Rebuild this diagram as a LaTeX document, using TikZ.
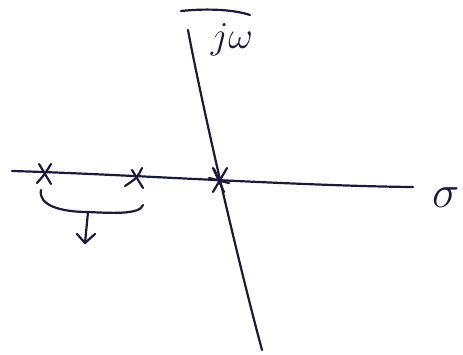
\RequirePackage{fix-cm}
\documentclass[tikz,border=0pt]{standalone}
\usetikzlibrary{arrows.meta,calc}
\begin{document}
\begin{tikzpicture}[x=1pt,y=-1pt,
  ink/.style={draw=inkc,line width=2.2pt,line cap=round,line join=round},
  lbl/.style={text=inkc,inner sep=0pt}]
\definecolor{inkc}{HTML}{1C1A3A}
\useasboundingbox (0,0) rectangle (463,355);
% axes
\coordinate (hl) at (12,171);
\coordinate (hr) at (413,187);
\coordinate (vt) at (188,30);
\coordinate (vb) at (262,350);
\coordinate (o) at (219,180);
\draw[ink] (hl) .. controls (120,174) and (300,186) .. (hr);
\draw[ink] (vt) .. controls (200,95) and (235,250) .. (vb);
% overline stroke
\coordinate (ol) at (181,11);
\coordinate (orr) at (250,15);
\draw[ink] (ol) .. controls (210,8) and (235,10) .. (orr);
% labels
\node[lbl,font=\fontsize{38}{38}\selectfont] (jw) at (232,40) {$j\omega$};
\node[lbl,font=\fontsize{46}{46}\selectfont,anchor=west] (sig) at (432,198) {$\sigma$};
% crosses
\coordinate (p1) at (45,174);
\coordinate (p2) at (137,178);
\draw[ink] ($(p1)+(-6,-10)$) -- ($(p1)+(6,10)$);
\draw[ink] ($(p1)+(6,-10)$) .. controls ($(p1)+(0,0)$) .. ($(p1)+(-8,9)$);
\draw[ink] ($(p2)+(-5,-8)$) -- ($(p2)+(6,10)$);
\draw[ink] ($(p2)+(5,-10)$) .. controls ($(p2)+(0,0)$) .. ($(p2)+(-12,8)$);
% star at origin
\draw[ink] ($(o)+(-6,-12)$) -- ($(o)+(5,12)$);
\draw[ink] ($(o)+(8,-12)$) -- ($(o)+(-6,12)$);
\draw[ink] ($(o)+(-10,-2)$) -- ($(o)+(10,3)$);
\draw[ink] ($(o)+(-5,-11)$) -- ($(o)+(0,0)$);
% brace and arrow
\coordinate (bl) at (41,190);
\coordinate (bm) at (88,212);
\coordinate (br) at (143,205);
\coordinate (ba) at (85,243);
\draw[ink] (bl) .. controls (38,205) and (60,212) .. (bm)
  .. controls (110,213) and (140,215) .. (br);
\draw[ink] (bm) -- (ba);
\draw[ink] (77,234) -- (ba) -- (95,234);
\end{tikzpicture}
\end{document}
